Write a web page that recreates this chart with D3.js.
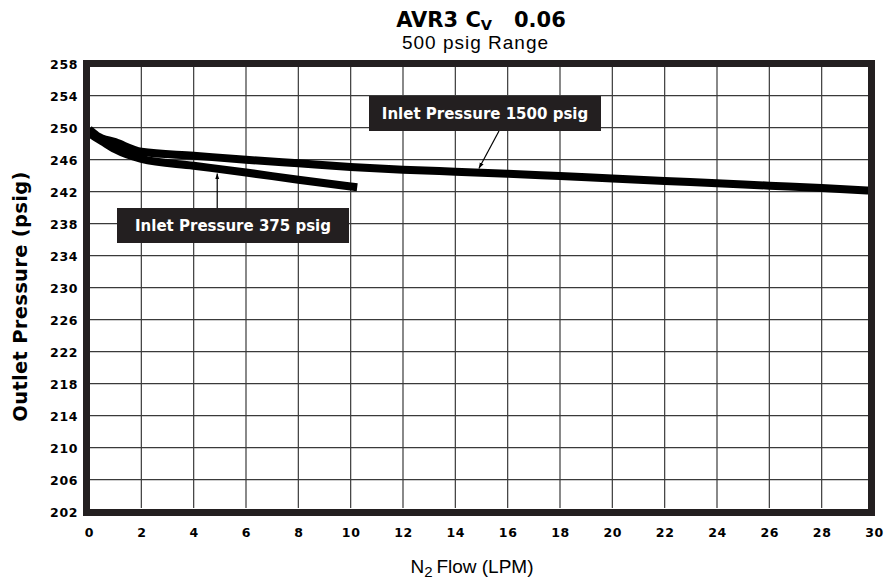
<!DOCTYPE html>
<html><head><meta charset="utf-8">
<script src="https://cdn.jsdelivr.net/npm/d3@7"></script>
<style>body{margin:0;background:#fff;}svg{display:block;}</style>
</head><body>
<svg id="c" width="888" height="580"></svg>
<script>
const xTicks = [0,2,4,6,8,10,12,14,16,18,20,22,24,26,28,30];
const yTicks = [202,206,210,214,218,222,226,230,234,238,242,246,250,254,258];
const flow1500 = [0,0.3,1,2,4,6,8,10,12,14,16,18,20,22,24,26,28,30];
const press1500 = [249.8,249.0,248.2,247.0,246.5,246.0,245.55,245.1,244.75,244.5,244.25,243.95,243.65,243.35,243.05,242.75,242.45,242.1];
const flow375 = [0,0.5,1,2,4,6,8,10,10.25];
const press375 = [249.3,248.3,247.3,246.1,245.25,244.4,243.5,242.65,242.55];
const labels = ["Inlet Pressure 1500 psig","Inlet Pressure 375 psig"];

const svg = d3.select("#c");
const x = d3.scaleLinear().domain([0,30]).range([89,874]);
const y = d3.scaleLinear().domain([202,258]).range([511.7,63.7]);
const boldFont = "DejaVu Sans, sans-serif";

svg.append("clipPath").attr("id","clip").append("rect")
  .attr("x",90).attr("y",67).attr("width",778).attr("height",441);

// grid
const g = svg.append("g").attr("clip-path","url(#clip)");
g.selectAll("line.v").data(xTicks).join("line")
  .attr("x1",d=>x(d)).attr("x2",d=>x(d)).attr("y1",60).attr("y2",516)
  .attr("stroke","#3a3a3a").attr("stroke-width",1.2);
g.selectAll("line.h").data(yTicks).join("line")
  .attr("y1",d=>y(d)).attr("y2",d=>y(d)).attr("x1",83).attr("x2",875)
  .attr("stroke","#3a3a3a").attr("stroke-width",1.2);

// curves
const line = d3.line().x(d=>x(d[0])).y(d=>y(d[1])).curve(d3.curveMonotoneX);
const s1500 = flow1500.map((f,i)=>[f,press1500[i]]);
const s375 = flow375.map((f,i)=>[f,press375[i]]);
[s1500,s375].forEach(s=>{
  g.append("path").datum(s).attr("d",line).attr("fill","none")
   .attr("stroke","#000").attr("stroke-width",8).attr("stroke-linecap","butt");
});

// frame
svg.append("rect").attr("x",86.5).attr("y",63.5).attr("width",785).attr("height",449)
  .attr("fill","none").attr("stroke","#231f20").attr("stroke-width",7);

// axes (labels only)
const xAxis = d3.axisBottom(x).tickValues(xTicks).tickSize(0).tickPadding(0).tickFormat(d3.format("d"));
const xg = svg.append("g").attr("transform","translate(0,537)").call(xAxis);
xg.select(".domain").remove();
xg.selectAll("text").attr("dy",0).attr("font-family",boldFont).attr("font-weight","bold")
  .attr("font-size",12.5).attr("fill","#000").attr("letter-spacing",0.6);

const yAxis = d3.axisLeft(y).tickValues(yTicks).tickSize(0).tickPadding(0).tickFormat(d3.format("d"));
const yg = svg.append("g").attr("transform","translate(78,0)").call(yAxis);
yg.select(".domain").remove();
yg.selectAll("text").attr("dy","0.36em").attr("font-family",boldFont).attr("font-weight","bold")
  .attr("font-size",12.5).attr("fill","#000").attr("letter-spacing",0.6);

// titles
const t = svg.append("text").attr("x",481).attr("y",27).attr("text-anchor","middle")
  .attr("font-family",boldFont).attr("font-weight","bold").attr("font-size",21).attr("fill","#000");
t.append("tspan").text("AVR3 C");
t.append("tspan").attr("font-size",14.5).attr("dy",3).text("V");
t.append("tspan").attr("dy",-3).text("\u00a0\u00a0 0.06");

svg.append("text").attr("x",475.5).attr("y",48.5).attr("text-anchor","middle")
  .attr("font-family","Liberation Sans, Arial, sans-serif").attr("font-size",19).attr("letter-spacing",1)
  .attr("fill","#000").text("500 psig Range");

const xt = svg.append("text").attr("x",472).attr("y",573).attr("text-anchor","middle")
  .attr("font-family","Liberation Sans, Arial, sans-serif").attr("font-size",19).attr("fill","#000");
xt.append("tspan").text("N");
xt.append("tspan").attr("font-size",15).attr("dy",4).text("2");
xt.append("tspan").attr("dy",-4).text("\u2009Flow (LPM)");

svg.append("text").attr("transform","translate(26.5,296.5) rotate(-90)").attr("text-anchor","middle")
  .attr("font-family",boldFont).attr("font-weight","bold").attr("font-size",19.5).attr("letter-spacing",0.3)
  .attr("fill","#000").text("Outlet Pressure (psig)");

// annotations
svg.append("defs").append("marker").attr("id","ah").attr("viewBox","0 0 10 10")
  .attr("refX",10).attr("refY",5).attr("markerWidth",5).attr("markerHeight",5)
  .attr("orient","auto-start-reverse").append("path").attr("d","M0,1.5L10,5L0,8.5Z").attr("fill","#000");

function annot(text, bx, by, bw, bh, ax1, ay1, ax2, ay2){
  svg.append("line").attr("x1",ax1).attr("y1",ay1).attr("x2",ax2).attr("y2",ay2)
    .attr("stroke","#000").attr("stroke-width",1.2).attr("marker-end","url(#ah)");
  svg.append("rect").attr("x",bx).attr("y",by).attr("width",bw).attr("height",bh).attr("fill","#231f20");
  svg.append("text").attr("x",bx+bw/2).attr("y",by+bh/2).attr("dy","0.36em").attr("text-anchor","middle")
    .attr("font-family",boldFont).attr("font-weight","bold").attr("font-size",15).attr("fill","#fff")
    .text(text);
}
annot(labels[0], 369, 96, 232, 35, 499, 131, x(14.9), y(244.4)-4);
annot(labels[1], 117, 208, 232, 35, x(4.9), 208, x(4.9), y(244.85)+4.5);
</script>
</body></html>
